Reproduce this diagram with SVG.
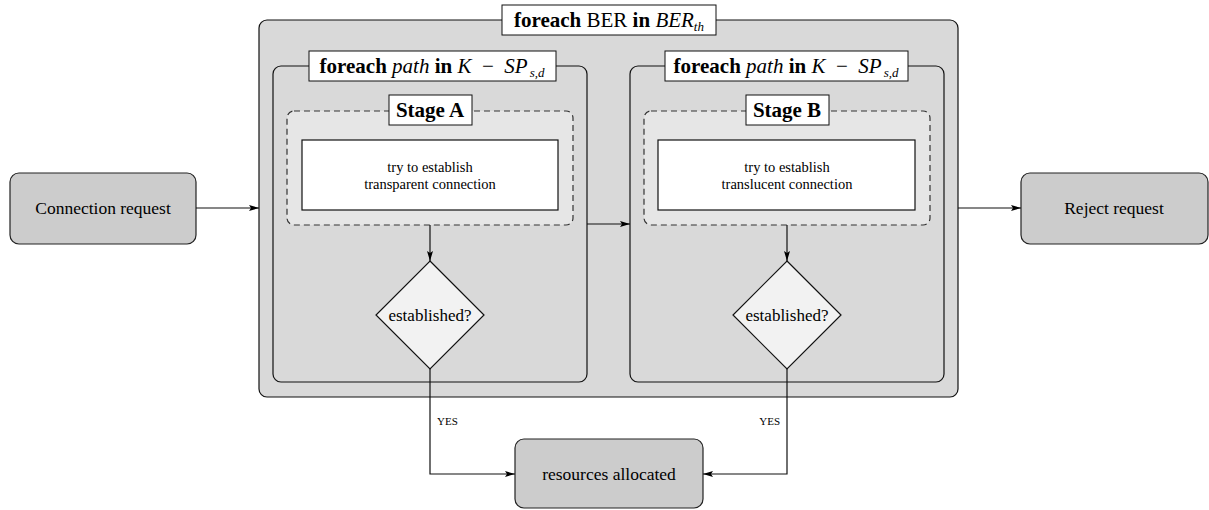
<svg xmlns="http://www.w3.org/2000/svg" width="1209" height="510" viewBox="0 0 1209 510" font-family="'Liberation Serif', 'Times New Roman', Times, serif">
  <defs>
    <marker id="arr" viewBox="0 0 10 6" refX="10" refY="3" markerWidth="10" markerHeight="6" markerUnits="userSpaceOnUse" orient="auto">
      <path d="M0,0 L10,3 L0,6 L2,3 z" fill="#000"/>
    </marker>
    <style>
      text { font-family: "Liberation Serif", "Times New Roman", Times, serif; fill: #000; }
      .node { fill: #cccccc; stroke: #222; stroke-width: 1.2; }
      .frame { fill: #d9d9d9; stroke: #111; stroke-width: 1.2; }
      .stage { fill: #e6e6e6; stroke: #333; stroke-width: 1.2; stroke-dasharray: 6 4; }
      .white { fill: #fff; stroke: #111; stroke-width: 1.2; }
      .dia { fill: #f2f2f2; stroke: #111; stroke-width: 1.2; }
      .lbl { fill: #fff; stroke: #111; stroke-width: 1; }
      .conn { fill: none; stroke: #111; stroke-width: 1.2; }
      .big { font-size: 17.5px; }
      .mid { font-size: 14.5px; }
      .q { font-size: 17px; }
      .title { font-size: 21px; }
      .yes { font-size: 11px; }
      .b { font-weight: bold; }
      .i { font-style: italic; }
    </style>
  </defs>

  <!-- outer BER loop -->
  <g id="ber-loop">
    <rect class="frame" x="259" y="20" width="699" height="377" rx="8"/>
    <rect class="lbl" x="502" y="5" width="214" height="30"/>
    <text class="title" x="609" y="27" text-anchor="middle"><tspan class="b">foreach</tspan> BER <tspan class="b">in</tspan> <tspan class="i">BER</tspan><tspan class="i" font-size="13" dy="4">th</tspan></text>
  </g>

  <!-- path loop A -->
  <g id="path-loop-a">
    <rect class="frame" x="273" y="66" width="314" height="316" rx="8"/>
    <rect class="lbl" x="309" y="51" width="247" height="30"/>
    <text class="title" x="432" y="73" text-anchor="middle" xml:space="preserve"><tspan class="b">foreach</tspan> <tspan class="i">path</tspan> <tspan class="b">in</tspan> <tspan class="i">K</tspan>  −  <tspan class="i">SP</tspan><tspan class="i" font-size="13" dy="4" dx="2">s,d</tspan></text>
  </g>

  <!-- path loop B -->
  <g id="path-loop-b">
    <rect class="frame" x="630" y="66" width="314" height="316" rx="8"/>
    <rect class="lbl" x="665" y="51" width="243" height="30"/>
    <text class="title" x="786" y="73" text-anchor="middle" xml:space="preserve"><tspan class="b">foreach</tspan> <tspan class="i">path</tspan> <tspan class="b">in</tspan> <tspan class="i">K</tspan>  −  <tspan class="i">SP</tspan><tspan class="i" font-size="13" dy="4" dx="2">s,d</tspan></text>
  </g>

  <!-- stage A -->
  <g id="stage-a">
    <rect class="stage" x="287" y="111" width="286" height="114" rx="7"/>
    <rect class="lbl" x="389" y="95" width="83" height="30"/>
    <text class="title b" x="430" y="117" text-anchor="middle">Stage A</text>
  </g>
  <g id="try-a">
    <rect class="white" x="302" y="140" width="256" height="70"/>
    <text class="mid" x="430" y="172" text-anchor="middle">try to establish</text>
    <text class="mid" x="430" y="189" text-anchor="middle">transparent connection</text>
  </g>
  <g id="check-a">
    <polygon class="dia" points="430,261 484,315 430,369 376,315"/>
    <text class="q" x="430" y="321" text-anchor="middle">established?</text>
  </g>

  <!-- stage B -->
  <g id="stage-b">
    <rect class="stage" x="644" y="111" width="286" height="114" rx="7"/>
    <rect class="lbl" x="746" y="95" width="83" height="30"/>
    <text class="title b" x="787" y="117" text-anchor="middle">Stage B</text>
  </g>
  <g id="try-b">
    <rect class="white" x="658" y="140" width="257" height="70"/>
    <text class="mid" x="787" y="172" text-anchor="middle">try to establish</text>
    <text class="mid" x="787" y="189" text-anchor="middle">translucent connection</text>
  </g>
  <g id="check-b">
    <polygon class="dia" points="787,261 841,315 787,369 733,315"/>
    <text class="q" x="787" y="321" text-anchor="middle">established?</text>
  </g>

  <!-- terminal nodes -->
  <g id="connection-request">
    <rect class="node" x="10" y="173" width="186" height="71" rx="9"/>
    <text class="big" x="103" y="214" text-anchor="middle">Connection request</text>
  </g>
  <g id="reject-request">
    <rect class="node" x="1021" y="173" width="187" height="71" rx="9"/>
    <text class="big" x="1114" y="214" text-anchor="middle">Reject request</text>
  </g>
  <g id="resources-allocated">
    <rect class="node" x="515" y="439" width="188" height="69" rx="9"/>
    <text class="big" x="609" y="480" text-anchor="middle">resources allocated</text>
  </g>

  <!-- connectors -->
  <g id="connectors">
    <line class="conn" x1="196" y1="208" x2="259" y2="208" marker-end="url(#arr)"/>
    <line class="conn" x1="958" y1="208" x2="1021" y2="208" marker-end="url(#arr)"/>
    <line class="conn" x1="587" y1="224" x2="630" y2="224" marker-end="url(#arr)"/>
    <line class="conn" x1="430" y1="225" x2="430" y2="261" marker-end="url(#arr)"/>
    <line class="conn" x1="787" y1="225" x2="787" y2="261" marker-end="url(#arr)"/>
    <polyline class="conn" points="430,369 430,474 515,474" marker-end="url(#arr)"/>
    <polyline class="conn" points="787,369 787,474 703,474" marker-end="url(#arr)"/>
    <text class="yes" x="437" y="425">YES</text>
    <text class="yes" x="780" y="425" text-anchor="end">YES</text>
  </g>
</svg>
